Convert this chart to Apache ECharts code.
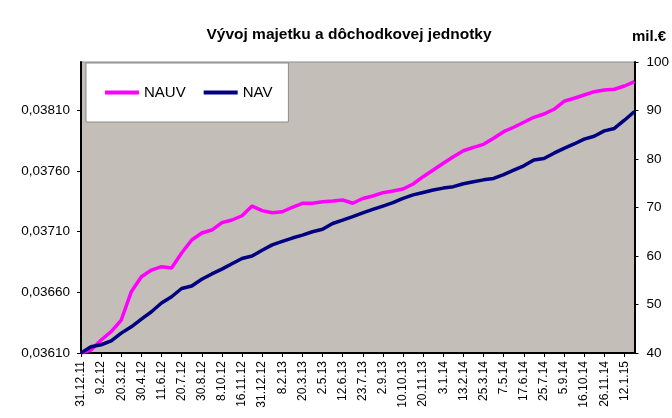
<!DOCTYPE html>
<html>
<head>
<meta charset="utf-8">
<script src="https://cdn.jsdelivr.net/npm/echarts@6/dist/echarts.min.js"></script>
<style>
  html, body { margin: 0; padding: 0; background: #ffffff; }
  #chart { width: 672px; height: 418px; }
</style>
</head>
<body>
<div id="chart"></div>
<script>
// dates (every other one is shown as axis label)
const dates = [
  "31.12.11", "20.1.12", "9.2.12", "29.2.12", "20.3.12", "10.4.12", "30.4.12", "21.5.12",
  "11.6.12", "2.7.12", "20.7.12", "9.8.12", "30.8.12", "19.9.12", "8.10.12", "26.10.12",
  "16.11.12", "7.12.12", "31.12.12", "21.1.13", "8.2.13", "28.2.13", "20.3.13", "11.4.13",
  "2.5.13", "22.5.13", "12.6.13", "3.7.13", "23.7.13", "13.8.13", "2.9.13", "20.9.13",
  "10.10.13", "31.10.13", "20.11.13", "12.12.13", "3.1.14", "23.1.14", "13.2.14", "5.3.14",
  "25.3.14", "15.4.14", "7.5.14", "27.5.14", "17.6.14", "7.7.14", "25.7.14", "15.8.14",
  "5.9.14", "26.9.14", "16.10.14", "5.11.14", "26.11.14", "17.12.14", "12.1.15", "30.1.15"
];

// NAUV - hodnota dôchodkovej jednotky (ľavá os)
const nauv = [
  0.036100, 0.036125, 0.036207, 0.036276, 0.036372, 0.036606, 0.036729, 0.036784,
  0.036812, 0.036801, 0.036925, 0.037032, 0.037090, 0.037114, 0.037175, 0.037197,
  0.037232, 0.037312, 0.037274, 0.037257, 0.037265, 0.037302, 0.037335, 0.037335,
  0.037348, 0.037354, 0.037362, 0.037335, 0.037374, 0.037395, 0.037422, 0.037436,
  0.037453, 0.037494, 0.037554, 0.037609, 0.037665, 0.037719, 0.037768, 0.037796,
  0.037821, 0.037871, 0.037925, 0.037962, 0.038003, 0.038044, 0.038071, 0.038110,
  0.038176, 0.038201, 0.038228, 0.038255, 0.038269, 0.038275, 0.038302, 0.038338
];

// NAV - majetok v mil. EUR (pravá os)
const nav = [
  40.0, 41.3, 41.7, 42.5, 44.1, 45.4, 47.0, 48.5,
  50.3, 51.6, 53.3, 53.8, 55.2, 56.3, 57.3, 58.4,
  59.5, 60.0, 61.2, 62.3, 63.0, 63.7, 64.3, 65.0,
  65.5, 66.7, 67.4, 68.1, 68.9, 69.6, 70.3, 71.0,
  71.9, 72.6, 73.1, 73.6, 74.0, 74.3, 74.9, 75.3,
  75.7, 76.0, 76.8, 77.7, 78.6, 79.8, 80.1, 81.2,
  82.2, 83.1, 84.1, 84.7, 85.8, 86.3, 88.0, 89.8
];

const fontFamily = "'Liberation Sans', Arial, sans-serif";

const chart = echarts.init(document.getElementById("chart"), null, { renderer: "canvas" });

const option = {
  backgroundColor: "#ffffff",
  animation: false,
  textStyle: { fontFamily: fontFamily, color: "#000000" },
  title: [
    {
      text: "Vývoj majetku a dôchodkovej jednotky",
      left: 344,
      top: 22,
      textAlign: "center",
      textStyle: { fontSize: 15.5, fontWeight: "bold", color: "#000000", fontFamily: fontFamily }
    },
    {
      text: "mil.€",
      left: 627,
      top: 24,
      textStyle: { fontSize: 15, fontWeight: "bold", color: "#000000", fontFamily: fontFamily }
    }
  ],
  legend: {
    left: 86,
    top: 63,
    orient: "horizontal",
    backgroundColor: "#ffffff",
    borderColor: "#8c8c8c",
    borderWidth: 1,
    padding: [22, 16, 22, 19],
    itemWidth: 34,
    itemHeight: 4,
    itemGap: 18,
    icon: "rect",
    textStyle: { fontSize: 15, color: "#000000", fontFamily: fontFamily },
    data: ["NAUV", "NAV"]
  },
  grid: {
    left: 81,
    right: 35,
    top: 62,
    bottom: 65,
    show: true,
    backgroundColor: "#c3bfb8",
    borderColor: "#8c8c8c",
    borderWidth: 1
  },
  xAxis: {
    type: "category",
    data: dates,
    boundaryGap: false,
    axisLine: { lineStyle: { color: "#000000", width: 2 } },
    axisTick: { interval: 1, length: 4, lineStyle: { color: "#000000" } },
    axisLabel: {
      interval: 1,
      rotate: 90,
      fontSize: 12,
      color: "#000000",
      margin: 8
    },
    splitLine: { show: false }
  },
  yAxis: [
    {
      type: "value",
      min: 0.0361,
      max: 0.0385,
      interval: 0.0005,
      position: "left",
      axisLine: { show: true, lineStyle: { color: "#000000", width: 2 } },
      axisTick: { show: true, length: 4, lineStyle: { color: "#000000" } },
      axisLabel: {
        fontSize: 13.5,
        color: "#000000",
        margin: 11,
        showMaxLabel: false,
        formatter: function (v) { return v.toFixed(5).replace(".", ","); }
      },
      splitLine: { show: false }
    },
    {
      type: "value",
      min: 40,
      max: 100,
      interval: 10,
      position: "right",
      axisLine: { show: true, lineStyle: { color: "#000000", width: 2 } },
      axisTick: { show: true, length: 4, lineStyle: { color: "#000000" } },
      axisLabel: { fontSize: 13.5, color: "#000000", margin: 12 },
      splitLine: { show: false }
    }
  ],
  series: [
    {
      name: "NAUV",
      type: "line",
      yAxisIndex: 0,
      data: nauv,
      showSymbol: false,
      symbol: "none",
      itemStyle: { color: "#ff00ff" },
      lineStyle: { color: "#ff00ff", width: 3.5 }
    },
    {
      name: "NAV",
      type: "line",
      yAxisIndex: 1,
      data: nav,
      showSymbol: false,
      symbol: "none",
      itemStyle: { color: "#000080" },
      lineStyle: { color: "#000080", width: 3.5 }
    }
  ]
};

chart.setOption(option);
</script>
</body>
</html>
